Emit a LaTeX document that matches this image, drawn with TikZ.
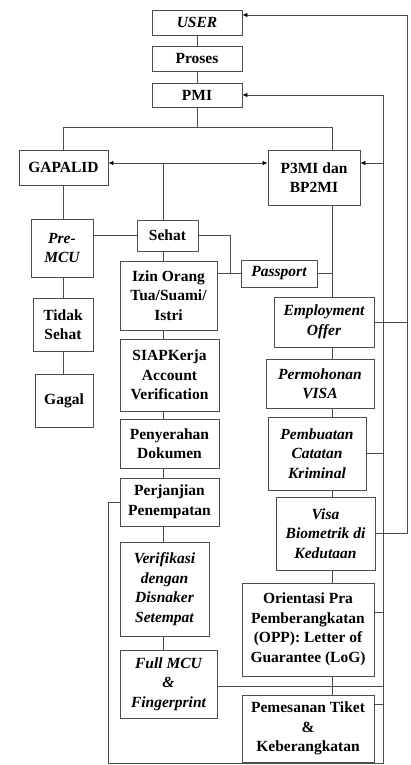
\documentclass[tikz,border=0pt]{standalone}
\usepackage{fontspec}
\setmainfont{Liberation Serif}
\usetikzlibrary{arrows.meta}

\tikzset{
  arr/.style={-{Latex[length=5pt,width=4.5pt,black]}},
  size/.style 2 args={minimum width=#1pt,minimum height=#2pt},
  it/.style={font=\fontsize{15.5}{19.5}\selectfont\bfseries\itshape},
}

\begin{document}
\begin{tikzpicture}[x=1pt,y=-1pt,line width=0.8pt,draw=black!70]

        \useasboundingbox (0,0) rectangle (410,765);

        \begin{scope}[every node/.style={draw=black!70,align=center,inner sep=0pt,
            font=\fontsize{15.5}{19.5}\selectfont\bfseries}]
          \node[size={90}{25},it] (user)    at (197,22.5)  {USER};
          \node[size={90}{25}]    (proses)  at (197,58.5)  {Proses};
          \node[size={90}{24}]    (pmi)     at (197,95)    {PMI};
          \node[size={89}{35}]    (gapalid) at (63.5,167.5) {GAPALID};
          \node[size={92}{55}]    (p3mi)    at (314,177.5) {P3MI dan\\BP2MI};
          \node[size={62}{58},it] (premcu)  at (62,248)    {Pre-\\MCU};
          \node[size={61}{31}]    (sehat)   at (167.5,235.5) {Sehat};
          \node[size={97}{69}]    (izin)    at (168.5,295.5) {Izin Orang\\Tua/Suami/\\Istri};
          \node[size={76}{27},it] (passport) at (279,273.5) {Passport};
          \node[size={60}{53}]    (tidak)   at (63,324.5)  {Tidak\\Sehat};
          \node[size={58}{53}]    (gagal)   at (64,400.5)  {Gagal};
          \node[size={100}{50},it] (employ) at (324,322)   {Employment\\Offer};
          \node[size={99}{72}]    (siap)    at (169.5,375) {SIAPKerja\\Account\\Verification};
          \node[size={108}{49},it] (visa)   at (320,383.5) {Permohonan\\VISA};
          \node[size={99}{49}]    (serah)   at (169.5,443.5) {Penyerahan\\Dokumen};
          \node[size={98}{73},it] (kriminal) at (317,453.5) {Pembuatan\\Catatan\\Kriminal};
          \node[size={99}{48}]    (janji)   at (169.5,502) {Perjanjian\\Penempatan};
          \node[size={99}{73},it] (biometrik) at (325.5,533.5) {Visa\\Biometrik di\\Kedutaan};
          \node[size={89}{94},it] (verif)   at (164.5,589) {Verifikasi\\dengan\\Disnaker\\Setempat};
          \node[size={132}{93}]   (opp)     at (308,629.5) {Orientasi Pra\\Pemberangkatan\\(OPP): Letter of\\Guarantee (LoG)};
          \node[size={97}{68},it] (fullmcu) at (168.5,684) {Full MCU\\\&\\Fingerprint};
          \node[size={132}{67}]   (tiket)   at (308,728.5) {Pemesanan Tiket\\\&\\Keberangkatan};
        \end{scope}

        \coordinate (t)  at (197,127);
        \coordinate (tl) at (63,127);
        \coordinate (tr) at (332,127);
        \coordinate (g)  at (163,163);
        \coordinate (s)  at (230,273.5);
        \coordinate (lc) at (163,0);
        \coordinate (bl) at (108,763);
        \coordinate (br) at (383,763);
        \coordinate (ft) at (407,15);
        \coordinate (fb) at (407,533.5);

        \draw (user) -- (proses);
        \draw (proses) -- (pmi);
        \draw (pmi) -- (t);
        \draw (tl) -- (tr);
        \draw (tl) -- (tl |- gapalid.north);
        \draw (tr) -- (tr |- p3mi.north);
        \draw[arr] (g) -- (g -| gapalid.east);
        \draw[arr] (g) -- (g -| p3mi.west);
        \draw (g) -- (g |- sehat.north);

        \draw (gapalid.south -| tl) -- (premcu.north -| tl);
        \draw (premcu.south -| tl) -- (tidak.north -| tl);
        \draw (tidak.south -| tl) -- (gagal.north -| tl);
        \draw (premcu.east |- sehat) -- (sehat.west);
        \draw (sehat.east) -| (s);
        \draw (izin.east |- s) -- (passport.west);
        \draw (passport.east) -- (passport.east -| tr);

        \draw (sehat.south -| lc) -- (izin.north -| lc);
        \draw (izin.south -| lc) -- (siap.north -| lc);
        \draw (siap.south -| lc) -- (serah.north -| lc);
        \draw (serah.south -| lc) -- (janji.north -| lc);
        \draw (janji.south -| lc) -- (verif.north -| lc);
        \draw (verif.south -| lc) -- (fullmcu.north -| lc);

        \draw (p3mi.south -| tr) -- (employ.north -| tr);
        \draw (employ.south -| tr) -- (visa.north -| tr);
        \draw (visa.south -| tr) -- (kriminal.north -| tr);
        \draw (kriminal.south -| tr) -- (biometrik.north -| tr);
        \draw (biometrik.south -| tr) -- (opp.north -| tr);
        \draw (opp.south -| tr) -- (tiket.north -| tr);

        \draw[arr] (janji.west) -| (bl) -- (br) -- (br |- pmi) -- (pmi.east);
        \draw[arr] (br |- g) -- (p3mi.east |- g);
        \draw (kriminal.east) -- (kriminal.east -| br);
        \draw (opp.east |- 0,612) -- (br |- 0,612);
        \draw (fullmcu.east |- 0,686) -- (br |- 0,686);
        \draw (tiket.east |- 0,704) -- (br |- 0,704);

        \draw[arr] (fb) -- (ft) -- (user.east |- ft);
        \draw (employ.east) -- (employ.east -| ft);
        \draw (biometrik.east) -- (fb);

      \end{tikzpicture}
\end{document}
